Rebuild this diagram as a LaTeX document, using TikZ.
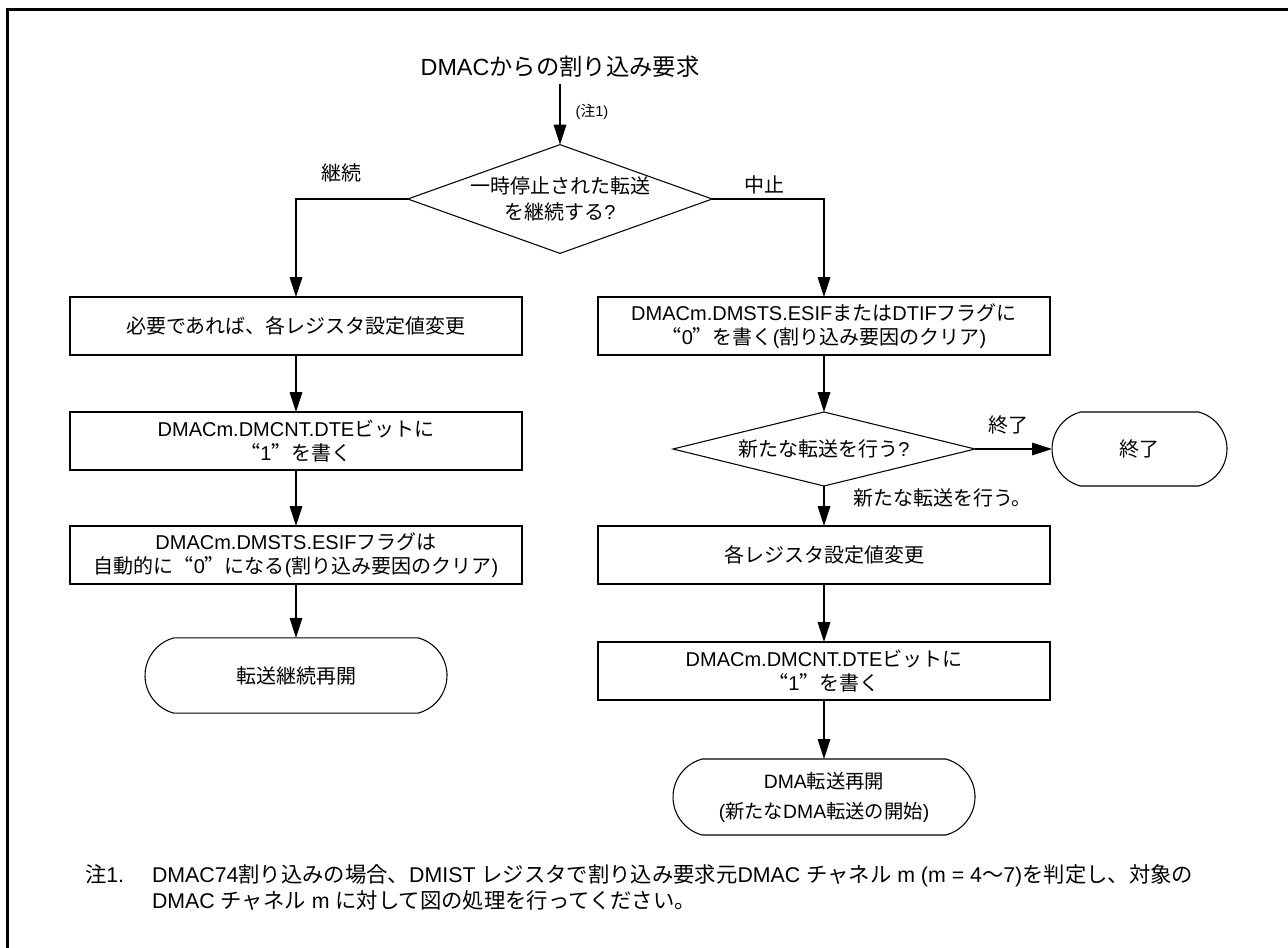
\documentclass[tikz,border=0pt]{standalone}
\usepackage{fontspec}
\setmainfont{Liberation Sans}
\newfontfamily\cjkfont[CharacterWidth=Full]{Noto Sans CJK JP}
\newfontfamily\latfont{Liberation Sans}
\usetikzlibrary{shapes.geometric,shapes.misc,arrows.meta}
\XeTeXinterchartokenstate=1
\newXeTeXintercharclass\cjkclass
\newcount\mycc
\mycc="3000
\loop \XeTeXcharclass\mycc=\cjkclass \ifnum\mycc<"30FF \advance\mycc by 1 \repeat
\mycc="4E00
\loop \XeTeXcharclass\mycc=\cjkclass \ifnum\mycc<"9FFF \advance\mycc by 1 \repeat
\mycc="FF00
\loop \XeTeXcharclass\mycc=\cjkclass \ifnum\mycc<"FFEF \advance\mycc by 1 \repeat
\XeTeXcharclass"201C=\cjkclass
\XeTeXcharclass"201D=\cjkclass
\XeTeXinterchartoks 0 \cjkclass = {\cjkfont}
\XeTeXinterchartoks 4095 \cjkclass = {\cjkfont}
\XeTeXinterchartoks \cjkclass 0 = {\latfont}
\XeTeXinterchartoks \cjkclass 4095 = {\latfont}
\XeTeXinterchartoks 4095 0 = {\latfont}
\begin{document}
\begin{tikzpicture}[x=0.75pt,y=-0.75pt,
  every node/.style={inner sep=0pt, outer sep=0pt},
  txt/.style={font=\fontsize{15}{17.5}\selectfont},
  box/.style={txt, draw, line width=1pt, minimum width=339pt, minimum height=43.5pt, align=center},
  term/.style={txt, draw, line width=0.8pt, rounded rectangle, rounded rectangle arc length=150, minimum width=226.5pt, minimum height=56.5pt, align=center},
  dec/.style={font=\fontsize{15}{19.5}\selectfont, draw, line width=0.8pt, diamond, align=center},
  lbl/.style={font=\fontsize{15}{17}\selectfont},
  arr/.style={line width=0.8pt, -{Triangle[length=15pt,width=9.5pt]}}
]
\useasboundingbox (0,0) rectangle (1288,947);
\draw[line width=2.5pt] (7.5,960) -- (7.5,9.5) -- (1300,9.5);

\node[font=\fontsize{17.5}{21}\selectfont, inner xsep=0pt, inner ysep=5pt] (title) at (560,67) {DMACからの割り込み要求};
\node[dec, minimum width=226.5pt, minimum height=81pt, aspect=2.8] (d1) at (560,199) {一時停止された転送\\を継続する?};
\node[font=\fontsize{11}{13}\selectfont] (n1) at (592,112) {(注1)};

\node[lbl] (lk) at (341,173) {継続};
\node[lbl] (lc) at (764,185) {中止};

\node[box] (L1) at (296,326) {必要であれば、各レジスタ設定値変更};
\node[box] (L2) at (296,441) {DMACm.DMCNT.DTEビットに\\“1”を書く};
\node[box] (L3) at (296,555) {DMACm.DMSTS.ESIFフラグは\\自動的に“0”になる(割り込み要因のクリア)};
\node[term] (TL) at (296,675.5) {転送継続再開};

\node[box] (R1) at (824,326) {DMACm.DMSTS.ESIFまたはDTIFフラグに\\“0”を書く(割り込み要因のクリア)};
\node[dec, minimum width=226.5pt, minimum height=55.5pt, aspect=4.08] (d2) at (824,449) {新たな転送を行う?};
\node[term, minimum width=131.25pt, minimum height=55.5pt] (TE) at (1139.5,449) {終了};
\node[lbl] (le) at (1008,425) {終了};
\node[lbl, anchor=west] (ln) at (853,498) {新たな転送を行う。};
\node[box] (R2) at (824,555) {各レジスタ設定値変更};
\node[box] (R3) at (824,671) {DMACm.DMCNT.DTEビットに\\“1”を書く};
\node[term, font=\fontsize{14.5}{22.5}\selectfont, minimum height=57pt] (TR) at (824,797) {DMA転送再開\\(新たなDMA転送の開始)};

\node[font=\fontsize{16}{19.5}\selectfont, anchor=west] (fn) at (85,874) {注1.};
\node[anchor=west, align=left, font=\fontsize{16}{19.5}\selectfont] (ft) at (152,887) {DMAC74割り込みの場合、DMIST レジスタで割り込み要求元DMAC チャネル m (m = 4〜7)を判定し、対象の\\DMAC チャネル m に対して図の処理を行ってください。};

\draw[arr] (title.south) -- (d1.north);
\draw[arr] (d1.west) -| (L1.north);
\draw[arr] (d1.east) -| (R1.north);
\draw[arr] (L1.south) -- (L2.north);
\draw[arr] (L2.south) -- (L3.north);
\draw[arr] (L3.south) -- (TL.north);
\draw[arr] (R1.south) -- (d2.north);
\draw[arr] (d2.east) -- (TE.west);
\draw[arr] (d2.south) -- (R2.north);
\draw[arr] (R2.south) -- (R3.north);
\draw[arr] (R3.south) -- (TR.north);
\end{tikzpicture}
\end{document}
